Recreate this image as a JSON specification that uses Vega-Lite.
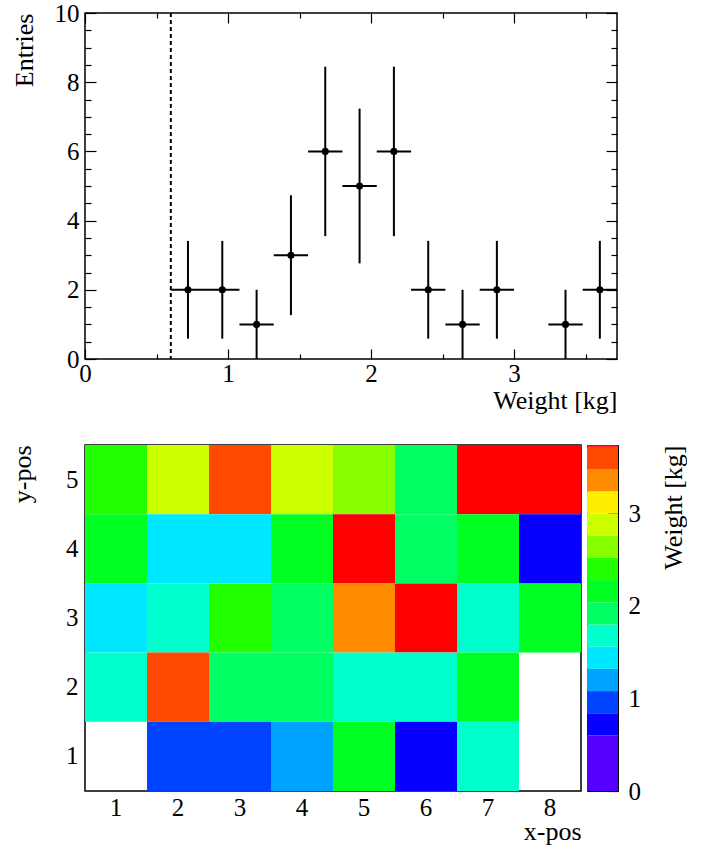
{
  "$schema": "https://vega.github.io/schema/vega-lite/v6.json",
  "background": "white",
  "padding": {"left": 8, "top": 0, "right": 0, "bottom": 0},
  "config": {
    "font": "Liberation Serif",
    "view": {"stroke": "black", "strokeWidth": 1.5},
    "style": {
      "guide-label": {"font": "Liberation Serif", "fontSize": 25, "fill": "black"},
      "guide-title": {"font": "Liberation Serif", "fontSize": 26, "fill": "black", "fontWeight": "normal"}
    },
    "axis": {
      "labelFont": "Liberation Serif", "titleFont": "Liberation Serif",
      "labelFontSize": 25, "titleFontSize": 26,
      "labelColor": "black", "titleColor": "black", "titleFontWeight": "normal",
      "domain": false, "grid": false, "tickColor": "black", "tickWidth": 1.2, "zindex": 1
    }
  },
  "datasets": {
    "bins": [
      {"center": 0.72, "lo": 0.60, "hi": 0.84, "n": 2, "elo": 0.586, "ehi": 3.414},
      {"center": 0.96, "lo": 0.84, "hi": 1.08, "n": 2, "elo": 0.586, "ehi": 3.414},
      {"center": 1.20, "lo": 1.08, "hi": 1.32, "n": 1, "elo": 0.0, "ehi": 2.0},
      {"center": 1.44, "lo": 1.32, "hi": 1.56, "n": 3, "elo": 1.268, "ehi": 4.732},
      {"center": 1.68, "lo": 1.56, "hi": 1.80, "n": 6, "elo": 3.551, "ehi": 8.449},
      {"center": 1.92, "lo": 1.80, "hi": 2.04, "n": 5, "elo": 2.764, "ehi": 7.236},
      {"center": 2.16, "lo": 2.04, "hi": 2.28, "n": 6, "elo": 3.551, "ehi": 8.449},
      {"center": 2.40, "lo": 2.28, "hi": 2.52, "n": 2, "elo": 0.586, "ehi": 3.414},
      {"center": 2.64, "lo": 2.52, "hi": 2.76, "n": 1, "elo": 0.0, "ehi": 2.0},
      {"center": 2.88, "lo": 2.76, "hi": 3.00, "n": 2, "elo": 0.586, "ehi": 3.414},
      {"center": 3.36, "lo": 3.24, "hi": 3.48, "n": 1, "elo": 0.0, "ehi": 2.0},
      {"center": 3.60, "lo": 3.48, "hi": 3.72, "n": 2, "elo": 0.586, "ehi": 3.414}
    ],
    "cells": [
      {"x": 1, "y": 5, "w": 2.40}, {"x": 2, "y": 5, "w": 2.88}, {"x": 3, "y": 5, "w": 3.60}, {"x": 4, "y": 5, "w": 2.88},
      {"x": 5, "y": 5, "w": 2.64}, {"x": 6, "y": 5, "w": 1.92}, {"x": 7, "y": 5, "w": 3.73}, {"x": 8, "y": 5, "w": 3.74},
      {"x": 1, "y": 4, "w": 2.16}, {"x": 2, "y": 4, "w": 1.44}, {"x": 3, "y": 4, "w": 1.44}, {"x": 4, "y": 4, "w": 2.16},
      {"x": 5, "y": 4, "w": 3.73}, {"x": 6, "y": 4, "w": 1.92}, {"x": 7, "y": 4, "w": 2.16}, {"x": 8, "y": 4, "w": 0.72},
      {"x": 1, "y": 3, "w": 1.44}, {"x": 2, "y": 3, "w": 1.68}, {"x": 3, "y": 3, "w": 2.40}, {"x": 4, "y": 3, "w": 1.92},
      {"x": 5, "y": 3, "w": 3.36}, {"x": 6, "y": 3, "w": 3.73}, {"x": 7, "y": 3, "w": 1.68}, {"x": 8, "y": 3, "w": 2.16},
      {"x": 1, "y": 2, "w": 1.68}, {"x": 2, "y": 2, "w": 3.60}, {"x": 3, "y": 2, "w": 1.92}, {"x": 4, "y": 2, "w": 1.92},
      {"x": 5, "y": 2, "w": 1.68}, {"x": 6, "y": 2, "w": 1.68}, {"x": 7, "y": 2, "w": 2.16},
      {"x": 2, "y": 1, "w": 0.96}, {"x": 3, "y": 1, "w": 0.96}, {"x": 4, "y": 1, "w": 1.20},
      {"x": 5, "y": 1, "w": 2.16}, {"x": 6, "y": 1, "w": 0.72}, {"x": 7, "y": 1, "w": 1.68}
    ],
    "bands": [
      {"lo": 0.00, "hi": 0.60, "mid": 0.30}, {"lo": 0.60, "hi": 0.84, "mid": 0.72}, {"lo": 0.84, "hi": 1.08, "mid": 0.96},
      {"lo": 1.08, "hi": 1.32, "mid": 1.20}, {"lo": 1.32, "hi": 1.56, "mid": 1.44}, {"lo": 1.56, "hi": 1.80, "mid": 1.68},
      {"lo": 1.80, "hi": 2.04, "mid": 1.92}, {"lo": 2.04, "hi": 2.28, "mid": 2.16}, {"lo": 2.28, "hi": 2.52, "mid": 2.40},
      {"lo": 2.52, "hi": 2.76, "mid": 2.64}, {"lo": 2.76, "hi": 3.00, "mid": 2.88}, {"lo": 3.00, "hi": 3.24, "mid": 3.12},
      {"lo": 3.24, "hi": 3.48, "mid": 3.36}, {"lo": 3.48, "hi": 3.72, "mid": 3.60}, {"lo": 3.72, "hi": 3.74, "mid": 3.73}
    ]
  },
  "spacing": 30,
  "vconcat": [
    {
      "width": 532,
      "height": 346,
      "resolve": {"axis": {"x": "independent", "y": "independent"}},
      "layer": [
        {
          "data": {"values": [{"cut": 0.6}]},
          "mark": {"type": "rule", "strokeDash": [4, 3], "strokeWidth": 2, "color": "black"},
          "encoding": {
            "x": {
              "field": "cut", "type": "quantitative",
              "scale": {"domain": [0, 3.72], "nice": false, "zero": false},
              "axis": {
                "orient": "top", "title": null, "labels": false,
                "values": [0, 0.5, 1, 1.5, 2, 2.5, 3, 3.5],
                "tickSize": {"condition": {"test": "datum.value % 1 === 0", "value": -10}, "value": -5}
              }
            }
          }
        },
        {
          "data": {"name": "bins"},
          "mark": {"type": "rule", "strokeWidth": 2, "color": "black"},
          "encoding": {
            "x": {
              "field": "center", "type": "quantitative",
              "scale": {"domain": [0, 3.72], "nice": false, "zero": false},
              "axis": {
                "orient": "bottom", "title": "Weight [kg]", "titleAnchor": "end", "titlePadding": -4,
                "labelFont": "Liberation Serif", "labelFontSize": 25, "titleFont": "Liberation Serif", "titleFontSize": 26,
                "values": [0, 0.5, 1, 1.5, 2, 2.5, 3, 3.5],
                "labelExpr": "datum.value % 1 === 0 ? format(datum.value, 'd') : ''",
                "labelPadding": 12, "labelFlush": false, "labelOverlap": false,
                "tickSize": {"condition": {"test": "datum.value % 1 === 0", "value": -10}, "value": -5}
              }
            },
            "y": {
              "field": "elo", "type": "quantitative",
              "scale": {"domain": [0, 10], "nice": false, "zero": false},
              "axis": {
                "orient": "left", "title": "Entries", "titleAnchor": "end", "titlePadding": 17,
                "labelFont": "Liberation Serif", "labelFontSize": 25, "titleFont": "Liberation Serif", "titleFontSize": 26,
                "values": [0, 0.5, 1, 1.5, 2, 2.5, 3, 3.5, 4, 4.5, 5, 5.5, 6, 6.5, 7, 7.5, 8, 8.5, 9, 9.5, 10],
                "labelExpr": "datum.value % 2 === 0 ? format(datum.value, 'd') : ''",
                "labelPadding": 17, "labelFlush": false, "labelOverlap": false,
                "tickSize": {"condition": {"test": "datum.value % 2 === 0", "value": -11}, "value": -6}
              }
            },
            "y2": {"field": "ehi"}
          }
        },
        {
          "data": {"name": "bins"},
          "mark": {"type": "rule", "strokeWidth": 2, "color": "black"},
          "encoding": {
            "x": {"field": "lo", "type": "quantitative", "axis": null},
            "x2": {"field": "hi"},
            "y": {
              "field": "n", "type": "quantitative",
              "axis": {
                "orient": "right", "title": null, "labels": false,
                "values": [0, 0.5, 1, 1.5, 2, 2.5, 3, 3.5, 4, 4.5, 5, 5.5, 6, 6.5, 7, 7.5, 8, 8.5, 9, 9.5, 10],
                "tickSize": {"condition": {"test": "datum.value % 2 === 0", "value": -11}, "value": -6}
              }
            }
          }
        },
        {
          "data": {"name": "bins"},
          "mark": {"type": "circle", "size": 50, "color": "black", "opacity": 1},
          "encoding": {
            "x": {"field": "center", "type": "quantitative", "axis": null},
            "y": {"field": "n", "type": "quantitative", "axis": null}
          }
        }
      ]
    },
    {
      "spacing": 4,
      "resolve": {"scale": {"color": "independent"}},
      "hconcat": [
        {
          "width": 496,
          "height": 346,
          "data": {"name": "cells"},
          "mark": {"type": "rect"},
          "encoding": {
            "x": {
              "field": "x", "type": "ordinal",
              "scale": {"domain": [1, 2, 3, 4, 5, 6, 7, 8], "paddingInner": 0, "paddingOuter": 0},
              "axis": {
                "title": "x-pos", "titleAnchor": "end", "titlePadding": -2, "labelAngle": 0, "ticks": false, "labelPadding": 4,
                "labelFont": "Liberation Serif", "labelFontSize": 25, "titleFont": "Liberation Serif", "titleFontSize": 26
              }
            },
            "y": {
              "field": "y", "type": "ordinal",
              "scale": {"domain": [5, 4, 3, 2, 1], "paddingInner": 0, "paddingOuter": 0},
              "axis": {
                "title": "y-pos", "titleAnchor": "start", "titleAlign": "right", "titlePadding": 30, "ticks": false, "labelPadding": 7,
                "labelFont": "Liberation Serif", "labelFontSize": 25, "titleFont": "Liberation Serif", "titleFontSize": 26
              }
            },
            "color": {
              "field": "w", "type": "quantitative",
              "scale": {
                "type": "threshold",
                "domain": [0.6, 0.84, 1.08, 1.32, 1.56, 1.8, 2.04, 2.28, 2.52, 2.76, 3.0, 3.24, 3.48, 3.72],
                "range": ["#5500ff", "#0800ff", "#0044ff", "#00a2ff", "#00e8ff", "#00ffcc", "#00ff62", "#00ff22", "#22ff00", "#88ff00", "#ccff00", "#ffee00", "#ff8c00", "#ff4800", "#ff0000"]
              },
              "legend": null
            }
          }
        },
        {
          "width": 31,
          "height": 346,
          "view": {"stroke": "black", "strokeWidth": 1},
          "data": {"name": "bands"},
          "mark": {"type": "rect"},
          "encoding": {
            "y": {
              "field": "lo", "type": "quantitative",
              "scale": {"domain": [0, 3.74], "nice": false, "zero": false},
              "axis": {
                "orient": "right", "title": "Weight [kg]", "titleAnchor": "end", "titleAngle": 270,
                "titlePadding": 46, "values": [0, 1, 2, 3], "labelPadding": 20, "labelFlush": false,
                "labelFont": "Liberation Serif", "labelFontSize": 25, "titleFont": "Liberation Serif", "titleFontSize": 26,
                "tickSize": -10
              }
            },
            "y2": {"field": "hi"},
            "color": {
              "field": "mid", "type": "quantitative",
              "scale": {
                "type": "threshold",
                "domain": [0.6, 0.84, 1.08, 1.32, 1.56, 1.8, 2.04, 2.28, 2.52, 2.76, 3.0, 3.24, 3.48, 3.72],
                "range": ["#5500ff", "#0800ff", "#0044ff", "#00a2ff", "#00e8ff", "#00ffcc", "#00ff62", "#00ff22", "#22ff00", "#88ff00", "#ccff00", "#ffee00", "#ff8c00", "#ff4800", "#ff0000"]
              },
              "legend": null
            }
          }
        }
      ]
    }
  ]
}
